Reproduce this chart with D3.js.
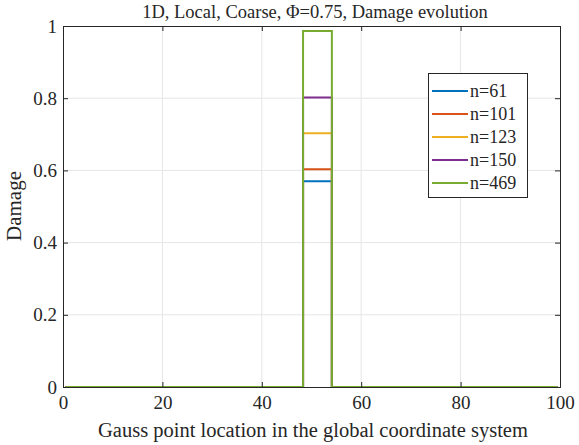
<!DOCTYPE html>
<html><head><meta charset="utf-8">
<script src="https://cdn.jsdelivr.net/npm/d3@7"></script>
<style>body{margin:0;background:#fff}svg{display:block}</style>
</head><body>
<script>
const seriesNames = ["n=61","n=101","n=123","n=150","n=469"];
const peakValues = [0.57, 0.603, 0.703, 0.802, 0.986];
const colors = ["#0072BD","#D95319","#EDB120","#7E2F8E","#77AC30"];
const pulseX = [0.5, 48.3, 48.3, 54.1, 54.1, 99.5];
const xTicks = [0,20,40,60,80,100];
const yTicks = [0,0.2,0.4,0.6,0.8,1];
const title = "1D, Local, Coarse, \u03A6=0.75, Damage evolution";
const xLabel = "Gauss point location in the global coordinate system";
const yLabel = "Damage";

const FONT = "'Liberation Serif', 'Times New Roman', serif";
const W=579,H=445, L=63, R=560, T=26, B=387;
const svg=d3.select("body").append("svg").attr("width",W).attr("height",H);
const x=d3.scaleLinear().domain([0,100]).range([L,R]);
const y=d3.scaleLinear().domain([0,1]).range([B,T]);

// grid
svg.append("g").selectAll("line").data(xTicks.slice(1,-1)).join("line")
 .attr("x1",d=>x(d)).attr("x2",d=>x(d)).attr("y1",T).attr("y2",B).attr("stroke","#e6e6e6");
svg.append("g").selectAll("line").data(yTicks.slice(1,-1)).join("line")
 .attr("y1",d=>y(d)).attr("y2",d=>y(d)).attr("x1",L).attr("x2",R).attr("stroke","#e6e6e6");

// series
const line=d3.line().x(d=>x(d[0])).y(d=>y(d[1]));
seriesNames.forEach((n,i)=>{
  const p=peakValues[i];
  const ys=[0,0,p,p,0,0];
  const data=pulseX.map((v,k)=>[v,ys[k]]);
  svg.append("path").datum(data).attr("d",line).attr("fill","none")
    .attr("stroke",colors[i]).attr("stroke-width",2);
});

// axes
svg.append("g").attr("transform",`translate(0,${B})`).call(d3.axisBottom(x).tickValues(xTicks).tickSize(-5).tickPadding(9).tickFormat(d3.format("d")));
svg.append("g").attr("transform",`translate(${L},0)`).call(d3.axisLeft(y).tickValues(yTicks).tickSize(-5).tickPadding(6).tickFormat(d=>d===0||d===1?String(d):d3.format(".1f")(d)));
svg.append("g").attr("transform",`translate(0,${T})`).call(d3.axisTop(x).tickValues(xTicks).tickSize(-5).tickFormat(""));
svg.append("g").attr("transform",`translate(${R},0)`).call(d3.axisRight(y).tickValues(yTicks).tickSize(-5).tickFormat(""));
svg.selectAll("g").attr("font-family",null);
svg.selectAll(".domain").attr("stroke","#262626");
svg.selectAll(".tick line").attr("stroke","#262626");
svg.selectAll(".tick text").style("font-family",FONT).style("font-size","19px").attr("fill","#262626");

// labels
svg.append("text").attr("x",315).attr("y",18).attr("text-anchor","middle").style("font-family",FONT).style("font-size","18.5px").attr("fill","#262626").text(title);
svg.append("text").attr("x",313).attr("y",437).attr("text-anchor","middle").style("font-family",FONT).style("font-size","20.5px").attr("fill","#262626").text(xLabel);
svg.append("text").attr("transform","translate(21,206) rotate(-90)").attr("text-anchor","middle").style("font-family",FONT).style("font-size","21px").attr("fill","#262626").text(yLabel);

// legend
const lg=svg.append("g");
lg.append("rect").attr("x",428.5).attr("y",73.5).attr("width",99).attr("height",124).attr("fill","#fff").attr("stroke","#262626");
seriesNames.forEach((n,i)=>{
  const yy=91+i*23;
  lg.append("line").attr("x1",432).attr("x2",468).attr("y1",yy).attr("y2",yy).attr("stroke",colors[i]).attr("stroke-width",2);
  lg.append("text").attr("x",470).attr("y",yy+6).style("font-family",FONT).style("font-size","18px").attr("fill","#262626").text(n);
});
</script>
</body></html>
